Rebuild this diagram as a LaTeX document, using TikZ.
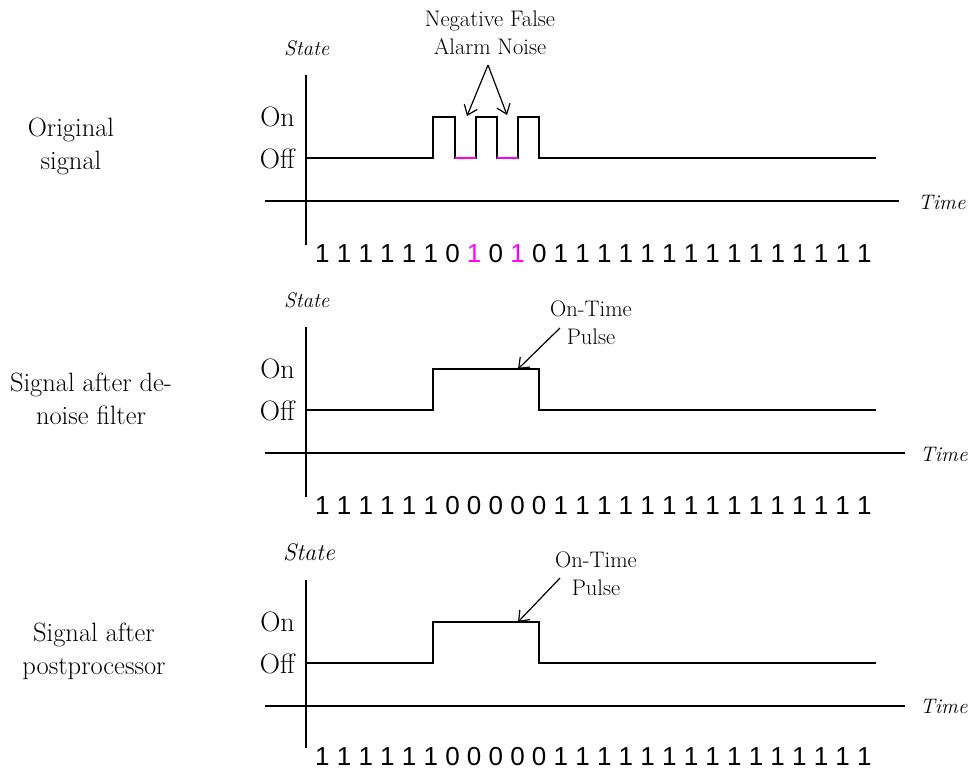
\documentclass[tikz,border=0pt]{standalone}
\usepackage{fontspec}
\newfontfamily\bitfont{Liberation Sans}
\usetikzlibrary{arrows.meta}
\definecolor{noisepink}{RGB}{255,0,255}
\tikzset{
  axis/.style={line width=1.6pt},
  wave/.style={line width=1.6pt,line join=miter},
  noise/.style={line width=2.6pt,noisepink},
  lvl/.style={anchor=east,inner sep=0pt,font=\fontsize{28}{30}\selectfont},
  caption/.style={align=center,inner sep=0pt,font=\fontsize{26.5}{33}\selectfont},
  note/.style={align=center,inner sep=0pt,font=\fontsize{22.5}{28}\selectfont},
  axlabel/.style={anchor=west,inner sep=0pt,font=\fontsize{21}{24}\selectfont\itshape},
  bits/.style={anchor=base west,inner sep=0pt,font=\bitfont\fontsize{26}{28}\selectfont},
  pointer/.style={line width=1.2pt,-{Straight Barb[length=9pt,width=14pt]}}
}
\begin{document}
\begin{tikzpicture}[x=1pt,y=-1pt]
\useasboundingbox (0,0) rectangle (969,777);
% original signal
\node[caption] (cap1) at (71,146) {Original\\signal};
\node[axlabel] (state1) at (284,48) {State};
\node[axlabel] (time1) at (918,202) {Time};
\node[lvl] (on1) at (295,117) {On};
\node[lvl] (off1) at (295,159) {Off};
\draw[axis] (306,75) -- (306,245);
\draw[axis] (265,201) -- (899,201);
\draw[wave] (306,158) -- (433,158) -- (433,117) -- (455,117) -- (455,158) -- (476,158)
  -- (476,117) -- (497,117) -- (497,158) -- (518,158) -- (518,117) -- (539,117)
  -- (539,158) -- (876,158);
\draw[noise] (455,158) -- (476,158);
\draw[noise] (497,158) -- (518,158);
\node[note] (false1) at (490,33) {Negative False\\Alarm Noise};
\coordinate (apex1) at (488,65);
\coordinate (gapa) at (467,116);
\coordinate (gapb) at (507,115);
\draw[pointer] (apex1) -- (gapa);
\draw[pointer] (apex1) -- (gapb);
\node[bits] (bits1) at (315,262) {1 1 1 1 1 1 0 \textcolor{noisepink}{1} 0 \textcolor{noisepink}{1} 0 1 1 1 1 1 1 1 1 1 1 1 1 1 1 1};
% after de-noise filter
\begin{scope}[shift={(0,252)}]
\node[caption] (cap2) at (91,147) {Signal after de-\\noise filter};
\node[axlabel] (state2) at (284,48) {State};
\node[axlabel] (time2) at (920,202) {Time};
\node[lvl] (on2) at (295,117) {On};
\node[lvl] (off2) at (295,159) {Off};
\draw[axis] (306,75) -- (306,245);
\draw[axis] (265,201) -- (905,201);
\draw[wave] (306,158) -- (433,158) -- (433,117) -- (539,117) -- (539,158) -- (876,158);
\node[note] (pulse2) at (591,71) {On-Time\\Pulse};
\coordinate (from2) at (560,76);
\coordinate (top2) at (518,117);
\draw[pointer] (from2) -- (top2);
\node[bits] (bits2) at (315,262) {1 1 1 1 1 1 0 0 0 0 0 1 1 1 1 1 1 1 1 1 1 1 1 1 1 1};
\end{scope}
% after postprocessor
\begin{scope}[shift={(0,505)}]
\node[caption] (cap3) at (94,146) {Signal after\\postprocessor};
\node[axlabel,font=\fontsize{24}{26}\selectfont\itshape] (state3) at (283,47) {State};
\node[axlabel] (time3) at (920,201) {Time};
\node[lvl] (on3) at (295,117) {On};
\node[lvl] (off3) at (295,159) {Off};
\draw[axis] (306,75) -- (306,243);
\draw[axis] (265,201) -- (905,201);
\draw[wave] (306,158) -- (433,158) -- (433,117) -- (539,117) -- (539,158) -- (876,158);
\node[note] (pulse3) at (596,69) {On-Time\\Pulse};
\coordinate (from3) at (560,73);
\coordinate (top3) at (518,117);
\draw[pointer] (from3) -- (top3);
\node[bits] (bits3) at (315,260) {1 1 1 1 1 1 0 0 0 0 0 1 1 1 1 1 1 1 1 1 1 1 1 1 1 1};
\end{scope}
\end{tikzpicture}
\end{document}
